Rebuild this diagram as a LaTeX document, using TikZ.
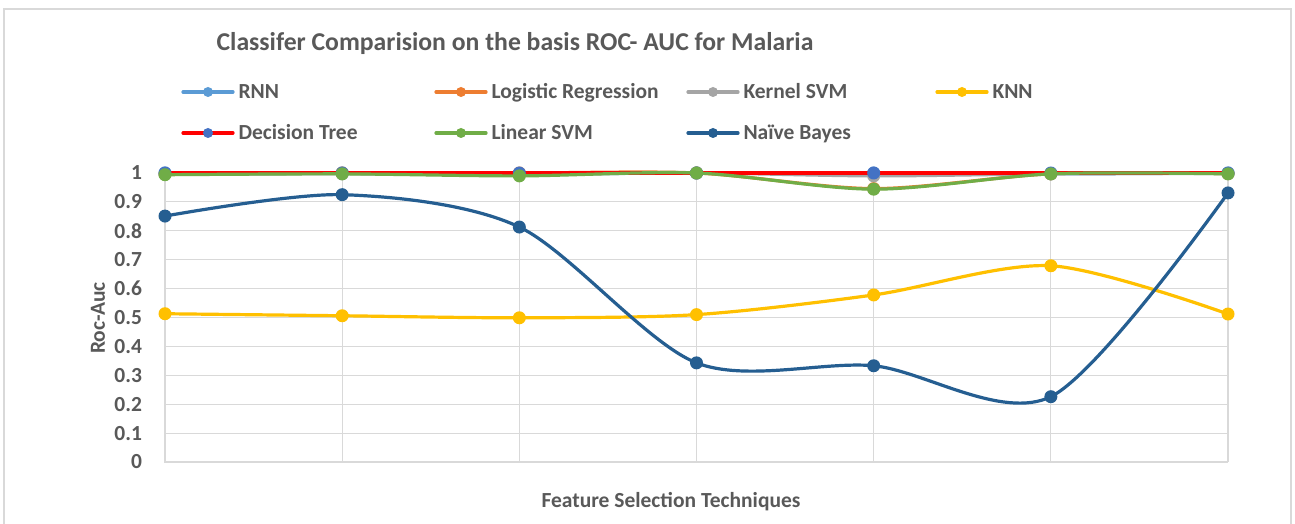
\documentclass[tikz,border=0pt]{standalone}
\usepackage{fontspec}
\setmainfont{Carlito}
\usepackage{tikz}

\definecolor{txtgray}{HTML}{595959}
\definecolor{gridgray}{HTML}{D9D9D9}
\definecolor{rnncol}{HTML}{5B9BD5}
\definecolor{logcol}{HTML}{ED7D31}
\definecolor{ksvmcol}{HTML}{A5A5A5}
\definecolor{knncol}{HTML}{FFC000}
\definecolor{dtcol}{HTML}{FF0000}
\definecolor{dtmark}{HTML}{4472C4}
\definecolor{lsvmcol}{HTML}{70AD47}
\definecolor{nbcol}{HTML}{255E91}

\tikzset{
    series/.style={line width=3.2pt, line cap=round, line join=round},
    dot/.style={circle, inner sep=0pt, minimum size=13pt},
    keydot/.style={circle, inner sep=0pt, minimum size=10pt},
    axistext/.style={text=txtgray, font=\bfseries\fontsize{21.5}{24}\selectfont},
    keytext/.style={text=txtgray, font=\bfseries\fontsize{21.5}{24}\selectfont, anchor=base west}
}

\begin{document}
\begin{tikzpicture}[x=1pt, y=1pt]

% page and chart frame
\useasboundingbox (0,0) rectangle (1295,524);
\fill[white] (0,0) rectangle (1295,524);
\draw[gridgray, line width=1.2pt] (4,0) -- (4,515) -- (1291,515) -- (1291,0);

% Title
\node[text=txtgray, font=\bfseries\fontsize{25.7}{28}\selectfont] (title) at (515,480)
    {Classifer Comparision on the basis ROC- AUC for Malaria};

% Legend
\foreach \name/\lcol/\mcol/\x/\y [count=\i] in {
    RNN/rnncol/rnncol/183/432,
    Logistic Regression/logcol/logcol/436/432,
    Kernel SVM/ksvmcol/ksvmcol/688/432,
    KNN/knncol/knncol/937/432,
    Decision Tree/dtcol/dtmark/183/391,
    Linear SVM/lsvmcol/lsvmcol/436/391,
    Na\"{\i}ve Bayes/nbcol/nbcol/688/391}
{
    \draw[\lcol, series] (\x,\y) -- ++(50,0);
    \node[keydot, fill=\mcol] (key\i) at (\x+25,\y) {};
    \node[keytext] (lab\i) at (\x+52,\y-7) {\name};
}

% Plot area: 7 techniques, Roc-Auc from 0 to 1
\begin{scope}[shift={(165,62)}, x=177.17pt, y=289pt]

% Grid
\foreach \v in {0.1,0.2,...,1.01}
    \draw[gridgray, line width=1.1pt] (0,\v) -- (6,\v);
\foreach \c in {0,...,6}
    \draw[gridgray, line width=1.1pt] (\c,0) -- (\c,1);
\draw[gridgray, line width=1.3pt] (0,1) -- (0,0) -- (6,0);

% Tick labels
\foreach \v/\t in {0/0,0.1/0.1,0.2/0.2,0.3/0.3,0.4/0.4,0.5/0.5,0.6/0.6,0.7/0.7,0.8/0.8,0.9/0.9,1/1}
    \node[axistext, anchor=east] at (-0.11,\v) {\t};

% Series (later ones on top)
\draw[rnncol, series] plot[smooth, tension=0.5] coordinates
    {(0,1) (1,1) (2,0.997) (3,1) (4,1) (5,0.997) (6,1)};
\foreach \c/\v in {0/1,1/1,2/0.997,3/1,4/1,5/0.997,6/1}
    \node[dot, fill=rnncol] at (\c,\v) {};

\draw[logcol, series] plot[smooth, tension=0.5] coordinates
    {(0,0.996) (1,1) (2,1) (3,1) (4,0.946) (5,0.997) (6,0.998)};
\foreach \c/\v in {0/0.996,1/1,2/1,3/1,4/0.946,5/0.997,6/0.998}
    \node[dot, fill=logcol] at (\c,\v) {};

\draw[ksvmcol, series] plot[smooth, tension=0.5] coordinates
    {(0,0.996) (1,0.997) (2,0.995) (3,1) (4,0.99) (5,0.997) (6,0.998)};
\foreach \c/\v in {0/0.996,1/0.997,2/0.995,3/1,4/0.99,5/0.997,6/0.998}
    \node[dot, fill=ksvmcol] at (\c,\v) {};

\draw[knncol, series] plot[smooth, tension=0.5] coordinates
    {(0,0.513) (1,0.506) (2,0.499) (3,0.51) (4,0.578) (5,0.679) (6,0.512)};
\foreach \c/\v in {0/0.513,1/0.506,2/0.499,3/0.51,4/0.578,5/0.679,6/0.512}
    \node[dot, fill=knncol] at (\c,\v) {};

\draw[dtcol, series] plot[smooth, tension=0.5] coordinates
    {(0,1) (1,1) (2,1) (3,1) (4,1) (5,1) (6,1)};
\foreach \c in {0,...,6}
    \node[dot, fill=dtmark] at (\c,1) {};

\draw[lsvmcol, series] plot[smooth, tension=0.5] coordinates
    {(0,0.994) (1,0.997) (2,0.99) (3,1) (4,0.944) (5,0.997) (6,0.997)};
\foreach \c/\v in {0/0.994,1/0.997,2/0.99,3/1,4/0.944,5/0.997,6/0.997}
    \node[dot, fill=lsvmcol] at (\c,\v) {};

\draw[nbcol, series] plot[smooth, tension=0.5] coordinates
    {(0,0.851) (1,0.925) (2,0.813) (3,0.343) (4,0.333) (5,0.226) (6,0.931)};
\foreach \c/\v in {0/0.851,1/0.925,2/0.813,3/0.343,4/0.333,5/0.226,6/0.931}
    \node[dot, fill=nbcol] at (\c,\v) {};

\end{scope}

% Axis titles
\node[axistext, rotate=90] (ytitle) at (98,206) {Roc-Auc};
\node[axistext] (xtitle) at (671,22) {Feature Selection Techniques};

\end{tikzpicture}
\end{document}
